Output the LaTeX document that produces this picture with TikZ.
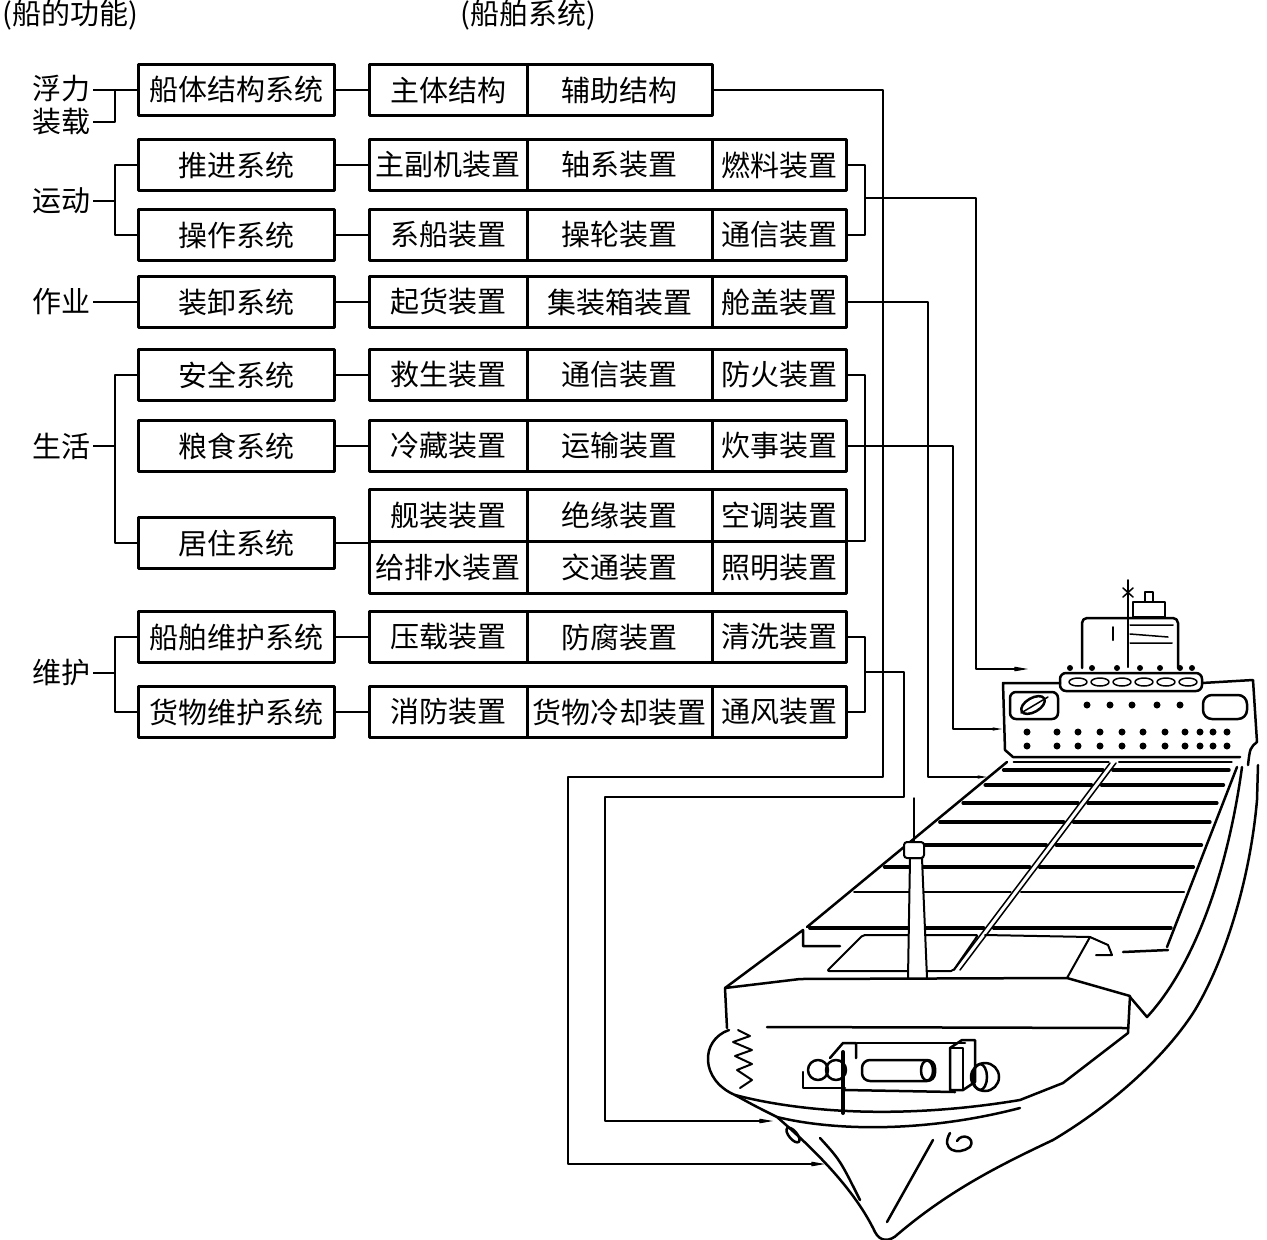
\documentclass[tikz,border=0pt]{standalone}
\usepackage{fontspec}
\usepackage{tikz}
\usetikzlibrary{arrows.meta}
\newfontfamily\cjk{Noto Sans CJK SC}
\tikzstyle{func}=[inner sep=0pt, outer sep=3pt, font=\cjk\fontsize{29}{32}\selectfont]
\tikzstyle{sysbox}=[rectangle, draw, line width=3pt, inner sep=0pt, minimum width=196pt, minimum height=51pt, font=\cjk\fontsize{29}{32}\selectfont]
\tikzstyle{cellA}=[sysbox, minimum width=157.5pt]
\tikzstyle{cellB}=[sysbox, minimum width=185pt]
\tikzstyle{cellC}=[sysbox, minimum width=134.5pt]
\tikzstyle{link}=[line width=1.8pt]
\tikzstyle{lead}=[line width=1.1pt, -{Stealth[length=20pt, width=7pt, inset=10pt]}]
\tikzstyle{hull}=[line width=2.5pt, line cap=round, line join=round]

\begin{document}
\begin{tikzpicture}[x=1pt, y=-1pt, line join=round]
\useasboundingbox (0,0) rectangle (1267,1240);
% headings
\node[func] (fhead) at (70,15) {(船的功能)};
\node[func] (shead) at (528,15) {(船舶系统)};
% functions
\node[func] (float) at (61,89) {浮力};
\node[func] (load) at (61,122) {装载};
\node[func] (move) at (61,201) {运动};
\node[func] (work) at (61,302) {作业};
\node[func] (life) at (61,446) {生活};
\node[func] (care) at (61,673) {维护};
% systems
\node[sysbox] (shull) at (236.5,90) {船体结构系统};
\node[sysbox] (spush) at (236.5,165) {推进系统};
\node[sysbox] (sop) at (236.5,235) {操作系统};
\node[sysbox] (scargo) at (236.5,302) {装卸系统};
\node[sysbox] (ssafe) at (236.5,375) {安全系统};
\node[sysbox] (sfood) at (236.5,446) {粮食系统};
\node[sysbox] (shome) at (236.5,543) {居住系统};
\node[sysbox] (sship) at (236.5,637) {船舶维护系统};
\node[sysbox] (sgoods) at (236.5,712) {货物维护系统};
% equipment
\node[cellA] (main) at (448.25,90) {主体结构};
\node[cellB] (aux) at (619.5,90) {辅助结构};
\node[cellA] (engine) at (448.25,165) {主副机装置};
\node[cellB] (shaft) at (619.5,165) {轴系装置};
\node[cellC] (fuel) at (779.25,165) {燃料装置};
\node[cellA] (moor) at (448.25,235) {系船装置};
\node[cellB] (steer) at (619.5,235) {操轮装置};
\node[cellC] (comm) at (779.25,235) {通信装置};
\node[cellA] (lift) at (448.25,302) {起货装置};
\node[cellB] (box) at (619.5,302) {集装箱装置};
\node[cellC] (hatch) at (779.25,302) {舱盖装置};
\node[cellA] (rescue) at (448.25,375) {救生装置};
\node[cellB] (radio) at (619.5,375) {通信装置};
\node[cellC] (fire) at (779.25,375) {防火装置};
\node[cellA] (cold) at (448.25,446) {冷藏装置};
\node[cellB] (trans) at (619.5,446) {运输装置};
\node[cellC] (cook) at (779.25,446) {炊事装置};
\node[cellA, minimum height=52pt] (outfit) at (448.25,515.5) {舰装装置};
\node[cellB, minimum height=52pt] (insul) at (619.5,515.5) {绝缘装置};
\node[cellC, minimum height=52pt] (air) at (779.25,515.5) {空调装置};
\node[cellA, minimum height=52pt] (water) at (448.25,567.5) {给排水装置};
\node[cellB, minimum height=52pt] (traffic) at (619.5,567.5) {交通装置};
\node[cellC, minimum height=52pt] (light) at (779.25,567.5) {照明装置};
\node[cellA] (ballast) at (448.25,637) {压载装置};
\node[cellB] (rust) at (619.5,637) {防腐装置};
\node[cellC] (wash) at (779.25,637) {清洗装置};
\node[cellA] (fight) at (448.25,712) {消防装置};
\node[cellB] (cool) at (619.5,712) {货物冷却装置};
\node[cellC] (vent) at (779.25,712) {通风装置};
% tree on the left
\coordinate (tj) at (115,0);
\draw[link] (float.east |- shull) -- (shull.west);
\draw[link] (load.east) -| (tj |- shull.west);
\draw[link] (move.east) -- (move.east -| tj);
\draw[link] (spush.west) -| (tj |- sop.west) -- (sop.west);
\draw[link] (work) -- (scargo);
\draw[link] (life.east) -- (life.east -| tj);
\draw[link] (ssafe.west) -| (tj |- shome.west) -- (shome.west);
\draw[link] (care.east) -- (care.east -| tj);
\draw[link] (sship.west) -| (tj |- sgoods.west) -- (sgoods.west);
\foreach \a/\b in {shull/main, spush/engine, sop/moor, scargo/lift, ssafe/rescue, sfood/cold, sship/ballast, sgoods/fight}
  \draw[link] (\a) -- (\b);
\draw[link] (shome.east) -- (shome.east -| outfit.west);
% leads to the ship
\coordinate (fuelj) at (865,198);
\coordinate (firej) at (865,541);
\coordinate (washj) at (865,672);
\coordinate (tohouse) at (1028,669);
\coordinate (tofront) at (1002,729);
\coordinate (todeck) at (987,777);
\coordinate (tobowA) at (773,1121);
\coordinate (tobowB) at (825,1164);
\draw[lead] (aux.east) -| (883,777) -- (568,777) |- (tobowB);
\draw[link] (fuel.east) -| (fuelj) |- (comm.east);
\draw[lead] (fuelj) -| (976,669) -- (tohouse);
\draw[lead, line width=1.8pt] (hatch.east) -| (928,777) -- (todeck);
\draw[link] (fire.east) -| (firej) -- (firej -| air.east);
\draw[lead, line width=1.8pt] (cook.east) -| (953,729) -- (tofront);
\draw[link] (wash.east) -| (washj) |- (vent.east);
\draw[lead] (washj) -| (904,797) -- (605,797) |- (tobowA);
% the ship
\begin{scope}[hull]
  % bridge and deck house
  \draw[line width=2pt] (1128,580) -- (1128,667);
  \draw[line width=1.5pt] (1123,588) -- (1133,597) (1123,597) -- (1133,588);
  \draw (1133,617) rectangle (1165,602);
  \draw (1145,602) rectangle (1153,592);
  \draw[rounded corners=5pt] (1082,668) -- (1082,618) -- (1178,618) -- (1178,668);
  \draw[line width=1.5pt] (1130,625) -- (1173,625) (1130,634) -- (1168,637) (1130,643) -- (1172,643);
  \draw[line width=2pt] (1113,627) -- (1113,640);
  \draw[rounded corners=6pt] (1060,673) rectangle (1202,691);
  \foreach \x in {1078,1100,1122,1144,1166,1188}
    \draw[line width=1.5pt] (\x,682) ellipse (9pt and 4pt);
  \foreach \x in {1070,1092,1117,1140,1160,1180,1192}
    \fill (\x,668) circle (3pt);
  % accommodation block
  \draw (1060,683) -- (1003,683) -- (1005,750) -- (1013,757) -- (1240,757);
  \draw (1202,683) -- (1253,680) -- (1257,742) .. controls (1250,748) .. (1248,765);
  \draw[rounded corners=6pt] (1010,692) rectangle (1058,719);
  \draw[rotate around={30:(1033,705)}] (1033,705) ellipse (13pt and 7pt);
  \draw[line width=1.5pt] (1021,713) -- (1048,697);
  \draw[rounded corners=9pt] (1203,695) rectangle (1247,719);
  \foreach \x in {1087,1110,1132,1157,1180}
    \fill (\x,705) circle (3.5pt);
  \foreach \x in {1027,1057,1078,1100,1122,1143,1165,1185,1200,1213,1227}
    \fill (\x,732) circle (3.5pt) (\x,746) circle (3.5pt);
  % hatch covers
  \foreach \hy/\hw in {762/1.5, 770/3.5, 785/3.5, 803/3.5, 822/3.5, 845/3.5, 867/3.5, 892/1.5, 928/3.5} {
    \pgfmathsetmacro\hl{811+(927-\hy)*1.227}
    \pgfmathsetmacro\hc{957+(970-\hy)*0.754}
    \pgfmathsetmacro\hr{1164+(947-\hy)*0.367}
    \draw[line width=\hw pt] (\hl,\hy) -- (\hc-5,\hy) (\hc+5,\hy) -- (\hr,\hy);
  }
  \draw (807,927) -- (1007,762);
  \draw[line width=1.5pt] (954,970) -- (1110,763) (960,970) -- (1116,763);
  \draw (1167,947) -- (1237,767);
  \draw[line width=2pt, rounded corners=2pt] (827,971) -- (863,935) -- (978,935) -- (953,971) -- cycle;
  \draw[line width=2pt] (985,935) -- (1090,937) -- (1067,978);
  \draw[line width=2pt] (1090,937) -- (1108,945) -- (1112,955) -- (1096,955);
  \draw (1123,952) -- (1168,950);
  \draw (725,988) -- (803,930) -- (803,946) -- (840,946);
  % mast
  \filldraw[fill=white, line width=2pt] (908,978) -- (910,858) -- (922,858) -- (927,978);
  \filldraw[fill=white, line width=2pt, rounded corners=3pt] (904,858) rectangle (924,842);
  \draw[line width=1.5pt] (914,842) -- (914,798);
  % forecastle
  \draw (725,988) -- (800,979) -- (1067,978) -- (1130,996) -- (1128,1033) -- (1063,1083) -- (1020,1100);
  \draw (725,988) -- (727,1028);
  \draw (767,1027) -- (1127,1028);
  \draw (729,1030) .. controls (700,1040) and (700,1080) .. (735,1095)
        .. controls (800,1112) and (900,1120) .. (1020,1100);
  \draw (735,1095) .. controls (755,1106) .. (777,1117)
        .. controls (815,1150) and (855,1190) .. (875,1232)
        .. controls (880,1242) and (890,1242) .. (898,1234)
        .. controls (950,1190) and (1000,1165) .. (1053,1140)
        .. controls (1120,1100) and (1170,1050) .. (1195,1010)
        .. controls (1225,960) and (1250,880) .. (1257,800) -- (1258,765);
  \draw (777,1117) .. controls (830,1130) and (920,1134) .. (1020,1108);
  \draw (1242,767) .. controls (1228,870) and (1195,965) .. (1147,1017) -- (1130,997);
  \draw[line width=2pt] (738,1030) -- (750,1036) -- (733,1042) -- (752,1050) -- (735,1056) -- (752,1064) -- (737,1070) -- (752,1080) -- (740,1088);
  \draw[rotate around={-50:(793,1135)}] (793,1135) ellipse (9pt and 4pt);
  \draw (820,1138) .. controls (840,1160) .. (860,1200);
  \draw (933,1140) -- (887,1222);
  \draw (950,1133) .. controls (940,1150) and (958,1156) .. (970,1147) .. controls (976,1138) and (962,1132) .. (957,1141);
  % windlass
  \draw (818,1070) circle (10pt);
  \draw (836,1070) circle (10pt);
  \draw[rounded corners=8pt] (862,1060) rectangle (935,1081);
  \draw (927,1070.5) ellipse (6pt and 10pt);
  \draw (950,1090) -- (950,1048) -- (962,1040) -- (975,1040) -- (975,1082) -- (963,1090) -- cycle;
  \draw (950,1048) -- (963,1048) -- (963,1090);
  \draw (985,1077) circle (14pt);
  \draw (980,1077) ellipse (7pt and 13pt);
  \draw[line width=4pt] (843,1052) -- (843,1113);
  \draw (803,1072) -- (803,1088) -- (845,1088);
  \draw (845,1090) -- (955,1092);
  \draw (857,1043) -- (965,1043);
  \draw (830,1058) -- (843,1043) -- (856,1043) -- (856,1058);
\end{scope}
\end{tikzpicture}
\end{document}
